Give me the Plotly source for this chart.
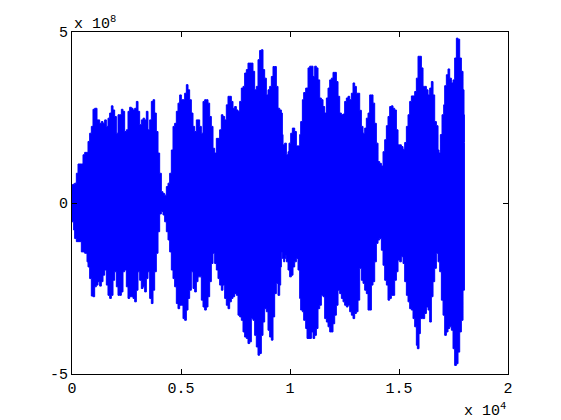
import plotly.graph_objects as go

# Upper envelope of the signal (sample index, amplitude in units of 1e8)
upper_x = [0, 46, 122, 199, 275, 428, 505, 581, 688, 734, 810, 887, 963, 1040, 1116, 1147, 1238, 1269, 1346, 1422,
           1498, 1575, 1651, 1728, 1804, 1881, 1957, 2034, 2110, 2186, 2263, 2339, 2416, 2492, 2569, 2645, 2722,
           2798, 2875, 2951, 3028, 3104, 3180, 3257, 3333, 3410, 3486, 3563, 3639, 3716, 3792, 3868, 3945, 4021,
           4098, 4174, 4251, 4327, 4404, 4480, 4557, 4633, 4709, 4786, 4862, 4939, 5015, 5092, 5168, 5245, 5321,
           5397, 5474, 5550, 5627, 5703, 5780, 5856, 5933, 6009, 6085, 6162, 6238, 6315, 6391, 6468, 6544, 6621,
           6697, 6773, 6850, 6926, 7003, 7079, 7156, 7232, 7309, 7385, 7461, 7538, 7614, 7691, 7767, 7844, 7920,
           7997, 8073, 8150, 8226, 8302, 8379, 8455, 8532, 8608, 8685, 8761, 8838, 8914, 8991, 9067, 9144, 9220,
           9297, 9373, 9450, 9527, 9603, 9649, 9680, 9756, 9833, 9909, 9955, 10032, 10108, 10215, 10292, 10368,
           10444, 10490, 10567, 10628, 10720, 10827, 10903, 10980, 11056, 11133, 11209, 11285, 11362, 11438, 11515,
           11591, 11668, 11744, 11821, 11897, 11973, 12050, 12126, 12203, 12279, 12356, 12432, 12508, 12585, 12661,
           12738, 12814, 12891, 12967, 13044, 13120, 13197, 13273, 13350, 13426, 13502, 13579, 13655, 13732, 13808,
           13885, 13961, 14038, 14114, 14191, 14267, 14344, 14420, 14496, 14573, 14649, 14726, 14802, 14879, 14955,
           15032, 15108, 15185, 15261, 15338, 15414, 15490, 15567, 15643, 15720, 15796, 15873, 15949, 16026, 16102,
           16179, 16255, 16332, 16408, 16484, 16561, 16637, 16714, 16790, 16836, 16897, 16974, 17050, 17096, 17172,
           17249, 17325, 17402, 17478, 17554, 17631, 17707, 17784, 17860, 17937, 17982, 18000]
upper_v = [0.53, 0.55, 0.58, 0.87, 1.14, 1.14, 1.41, 1.48, 1.48, 1.80, 2.04, 2.24, 2.74, 2.77, 2.77, 2.43, 2.43, 2.33,
           2.38, 2.33, 2.43, 2.24, 2.48, 2.63, 2.84, 2.72, 2.53, 2.04, 2.58, 2.58, 2.74, 2.68, 2.09, 2.14, 2.68, 2.80,
           2.77, 2.72, 2.77, 2.97, 2.68, 2.29, 2.43, 2.48, 2.43, 2.68, 2.14, 2.43, 2.97, 3.02, 2.63, 2.09, 1.46, 0.87,
           0.33, 0.28, 0.23, 0.48, 0.58, 0.87, 1.55, 2.24, 2.33, 2.68, 2.92, 3.16, 3.02, 3.02, 3.21, 3.46, 3.31, 3.02,
           2.63, 2.24, 2.09, 2.43, 2.43, 2.24, 2.04, 2.97, 3.02, 3.02, 2.92, 2.53, 2.24, 1.60, 1.46, 1.89, 1.89, 2.14,
           2.58, 2.53, 2.43, 2.87, 3.12, 3.12, 2.97, 2.77, 2.82, 2.72, 2.68, 2.97, 3.36, 3.41, 3.80, 3.90, 4.09, 4.09,
           4.09, 3.85, 3.31, 3.41, 4.19, 4.46, 4.48, 3.90, 3.65, 3.16, 3.31, 3.41, 3.70, 3.99, 3.99, 3.41, 2.77, 2.72,
           2.63, 2.00, 1.70, 1.75, 1.41, 1.50, 1.75, 2.04, 2.19, 2.09, 1.67, 1.67, 2.00, 2.38, 3.02, 3.23, 3.36, 3.95,
           4.00, 4.00, 3.70, 4.00, 3.95, 3.60, 3.07, 3.02, 2.82, 2.63, 3.07, 3.36, 3.60, 3.65, 3.82, 3.82, 3.55, 3.12,
           2.63, 2.58, 2.60, 2.97, 3.07, 3.12, 3.02, 3.21, 3.51, 3.41, 3.21, 3.21, 2.71, 2.24, 2.04, 2.19, 2.48, 2.63,
           3.16, 3.16, 2.92, 2.33, 1.75, 1.21, 1.16, 1.08, 1.50, 1.85, 2.26, 2.53, 2.82, 2.84, 2.77, 2.72, 2.14, 1.70,
           1.70, 1.65, 1.57, 1.77, 2.24, 2.58, 2.97, 3.13, 3.13, 3.26, 3.65, 4.29, 4.29, 3.95, 3.41, 3.41, 3.31, 3.16,
           3.36, 3.55, 3.16, 2.38, 2.26, 1.55, 1.46, 2.00, 2.58, 2.87, 3.43, 3.75, 3.92, 3.65, 3.51, 3.60, 4.24, 4.82,
           4.79, 4.24, 3.85, 3.31, 2.58, 1.77]

# Lower envelope of the signal (sample index, amplitude in units of 1e8)
lower_x = [0, 76, 122, 199, 275, 428, 474, 581, 688, 734, 810, 887, 963, 1040, 1116, 1193, 1269, 1346, 1422, 1498,
           1575, 1651, 1728, 1804, 1881, 1957, 2034, 2110, 2186, 2263, 2339, 2416, 2492, 2569, 2645, 2722, 2798,
           2875, 2951, 3028, 3104, 3180, 3257, 3333, 3410, 3486, 3563, 3639, 3716, 3792, 3868, 3945, 4021, 4098,
           4174, 4251, 4327, 4404, 4480, 4557, 4633, 4709, 4786, 4862, 4939, 5015, 5092, 5168, 5245, 5321, 5397,
           5474, 5550, 5627, 5703, 5780, 5856, 5933, 6009, 6085, 6162, 6238, 6315, 6391, 6468, 6544, 6621, 6697,
           6773, 6850, 6926, 7003, 7079, 7156, 7232, 7309, 7385, 7461, 7538, 7614, 7691, 7767, 7844, 7920, 7997,
           8073, 8150, 8226, 8302, 8379, 8455, 8532, 8608, 8685, 8761, 8838, 8914, 8991, 9067, 9144, 9220, 9297,
           9373, 9450, 9527, 9573, 9603, 9649, 9710, 9756, 9802, 9833, 9909, 9985, 10062, 10138, 10215, 10292,
           10368, 10444, 10490, 10567, 10628, 10720, 10781, 10873, 10980, 11056, 11133, 11209, 11285, 11362, 11438,
           11515, 11591, 11668, 11744, 11821, 11897, 11973, 12050, 12126, 12203, 12279, 12356, 12432, 12508, 12585,
           12661, 12738, 12814, 12891, 12967, 13044, 13120, 13197, 13273, 13350, 13426, 13502, 13579, 13655, 13732,
           13808, 13885, 13961, 14038, 14114, 14191, 14267, 14344, 14420, 14496, 14573, 14649, 14726, 14802, 14879,
           14955, 15032, 15108, 15185, 15261, 15338, 15414, 15490, 15567, 15643, 15720, 15796, 15842, 15918, 15979,
           16071, 16179, 16255, 16332, 16408, 16484, 16561, 16637, 16714, 16790, 16867, 16943, 17020, 17096, 17172,
           17249, 17325, 17402, 17478, 17554, 17631, 17707, 17784, 17860, 17937, 18000]
lower_v = [-0.50, -0.55, -0.79, -1.04, -1.13, -1.13, -1.43, -1.43, -1.47, -1.72, -1.87, -2.21, -2.72, -2.74, -2.45,
           -2.40, -2.30, -2.43, -2.30, -2.11, -1.96, -2.40, -2.70, -2.79, -2.70, -2.26, -2.01, -2.45, -2.70, -2.70,
           -2.60, -2.01, -1.96, -2.45, -2.79, -2.74, -2.74, -2.79, -2.89, -2.55, -2.01, -2.26, -2.50, -2.45, -2.60,
           -2.21, -2.01, -2.79, -2.94, -2.55, -2.01, -1.47, -0.84, -0.32, -0.25, -0.35, -0.55, -0.84, -1.08, -1.43,
           -1.96, -2.21, -2.45, -2.94, -3.09, -2.99, -2.99, -3.38, -3.43, -3.13, -2.79, -2.55, -2.01, -2.50, -2.60,
           -2.30, -2.16, -2.16, -2.84, -3.04, -3.13, -3.04, -2.74, -2.30, -1.77, -1.47, -1.77, -1.96, -2.21, -2.40,
           -2.55, -2.40, -2.79, -2.99, -3.09, -2.89, -2.79, -2.74, -2.65, -2.70, -3.28, -3.33, -3.43, -3.77, -3.92,
           -3.96, -4.11, -4.06, -3.38, -3.43, -3.87, -4.21, -4.45, -4.40, -3.87, -3.48, -3.09, -3.18, -3.72, -3.92,
           -4.01, -3.33, -2.65, -2.35, -2.70, -2.40, -1.87, -1.43, -1.62, -1.72, -1.62, -1.52, -1.72, -1.96, -2.16,
           -2.11, -1.87, -1.72, -1.62, -1.96, -2.79, -3.13, -3.18, -3.43, -3.67, -3.96, -3.96, -3.77, -3.96, -3.87,
           -3.67, -3.09, -2.99, -2.70, -2.74, -3.38, -3.48, -3.62, -3.77, -3.77, -3.53, -3.28, -2.99, -2.55, -2.65,
           -2.79, -2.89, -2.99, -3.04, -2.99, -3.18, -3.28, -3.38, -3.23, -3.18, -2.84, -1.91, -2.26, -2.35, -2.55,
           -2.65, -3.13, -3.13, -2.40, -2.30, -1.72, -1.18, -1.08, -1.04, -1.38, -1.82, -2.26, -2.40, -2.84, -2.79,
           -2.70, -2.70, -2.26, -2.01, -1.67, -1.72, -1.57, -1.77, -2.30, -2.70, -2.89, -3.09, -3.13, -3.38, -3.62,
           -4.16, -4.26, -3.82, -3.38, -3.38, -3.23, -3.04, -3.13, -3.48, -2.74, -2.30, -1.91, -1.47, -1.72, -2.01,
           -2.84, -3.28, -3.87, -3.77, -3.67, -3.62, -3.72, -4.26, -4.75, -4.70, -4.36, -3.77, -3.43, -2.55]

x_tick_vals = [0, 5000, 10000, 15000, 20000]
x_tick_text = ["0", "0.5", "1", "1.5", "2"]
y_tick_vals = [-5e8, 0, 5e8]
y_tick_text = ["-5", "0", "5"]

scale_y = 1e8
poly_x = upper_x + lower_x[::-1]
poly_y = [v * scale_y for v in upper_v] + [v * scale_y for v in lower_v[::-1]]

fig = go.Figure()
fig.add_trace(go.Scatter(
    x=poly_x, y=poly_y, mode="lines", fill="toself",
    fillcolor="#0000FF", line=dict(color="#0000FF", width=1, shape="hv"),
    hoverinfo="skip", showlegend=False,
))

font = dict(family="Liberation Mono", size=15, color="black")
axis_common = dict(
    showgrid=False, zeroline=False, showline=True, linecolor="black", linewidth=1,
    mirror="ticks", ticks="inside", ticklen=5, tickcolor="black", tickfont=font,
)
fig.update_xaxes(range=[0, 20000], tickvals=x_tick_vals, ticktext=x_tick_text, **axis_common)
fig.update_yaxes(range=[-5e8, 5e8], tickvals=y_tick_vals, ticktext=y_tick_text, **axis_common)

# page body has an 8px margin, so the figure is shrunk by 8px to fit the 561x420 window
fig.update_layout(
    width=553, height=412,
    margin=dict(l=64, r=53, t=24, b=46),
    paper_bgcolor="white", plot_bgcolor="white",
    font=font,
    annotations=[
        dict(text="x 10<sup>8</sup>", xref="paper", yref="paper", x=0.0, y=1.026,
             xanchor="left", yanchor="middle", showarrow=False, font=font),
        dict(text="x 10<sup>4</sup>", xref="paper", yref="paper", x=1.0, y=-0.105,
             xanchor="right", yanchor="middle", showarrow=False, font=font),
    ],
)

fig.write_html("out.html")
